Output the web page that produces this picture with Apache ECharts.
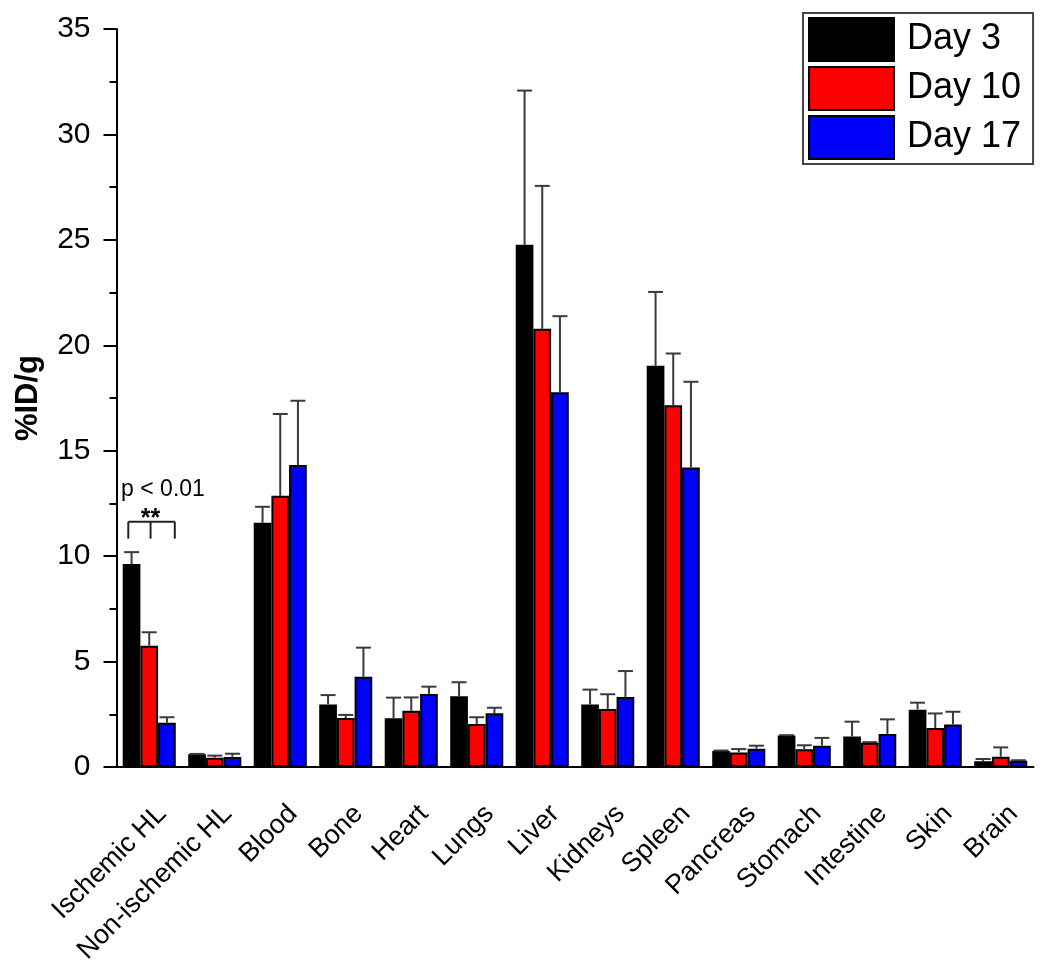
<!DOCTYPE html>
<html>
<head>
<meta charset="utf-8">
<script src="https://cdn.jsdelivr.net/npm/echarts@6/dist/echarts.min.js"></script>
<style>
html,body{margin:0;padding:0;background:#fff;}
#chart{width:1050px;height:967px;}
</style>
</head>
<body>
<div id="chart"></div>
<script>
const categories = ['Ischemic HL','Non-ischemic HL','Blood','Bone','Heart','Lungs','Liver','Kidneys','Spleen','Pancreas','Stomach','Intestine','Skin','Brain'];
const seriesNames = ['Day 3','Day 10','Day 17'];
const day3 = [9.63, 0.60, 11.58, 2.96, 2.31, 3.35, 24.77, 2.96, 19.03, 0.76, 1.49, 1.45, 2.72, 0.27];
const day3Err = [0.56, 0.02, 0.76, 0.45, 0.98, 0.67, 7.31, 0.71, 3.50, 0.02, 0.02, 0.70, 0.33, 0.11];
const day10 = [5.75, 0.44, 12.86, 2.32, 2.67, 2.04, 20.78, 2.75, 17.16, 0.69, 0.84, 1.15, 1.85, 0.49];
const day10Err = [0.64, 0.10, 3.88, 0.15, 0.63, 0.32, 6.78, 0.70, 2.45, 0.16, 0.19, 0.03, 0.69, 0.44];
const day17 = [2.10, 0.48, 14.32, 4.28, 3.46, 2.55, 17.77, 3.32, 14.20, 0.87, 1.01, 1.56, 2.02, 0.30];
const day17Err = [0.26, 0.15, 3.05, 1.38, 0.35, 0.26, 3.61, 1.23, 4.07, 0.14, 0.37, 0.70, 0.60, 0.02];
const yTicks = [0, 5, 10, 15, 20, 25, 30, 35];
const annotationText = ['p < 0.01', '**'];

const colors = ['#000000', '#ff0000', '#0000ff'];
const values = [day3, day10, day17];
const errors = [day3Err, day10Err, day17Err];
const FONT = '"Liberation Sans", Arial, sans-serif';
const GROUP_FRACTION = 0.81;

const chart = echarts.init(document.getElementById('chart'), null, {renderer: 'canvas'});

const barSeries = seriesNames.map((name, k) => ({
  name: name,
  type: 'bar',
  data: values[k],
  barGap: '0%',
  barCategoryGap: '19%',
  itemStyle: {color: colors[k], borderColor: '#000', borderWidth: 2},
  emphasis: {disabled: true},
  z: 2
}));

const errSeries = seriesNames.map((name, k) => ({
  name: name + ' err',
  type: 'custom',
  data: values[k].map((v, i) => [i, v, v + errors[k][i]]),
  encode: {x: 0, y: 2},
  z: 3,
  silent: true,
  renderItem: function (params, api) {
    const i = api.value(0);
    const p = api.coord([i, api.value(1)]);
    const q = api.coord([i, api.value(2)]);
    const band = api.size([1, 0])[0];
    const bw = band * GROUP_FRACTION / 3;
    const x = p[0] + (k - 1) * bw;
    const style = {stroke: '#3a3a3a', lineWidth: 2};
    return {
      type: 'group',
      children: [
        {type: 'line', shape: {x1: x, y1: p[1], x2: x, y2: q[1]}, style: style},
        {type: 'line', shape: {x1: x - 7.5, y1: q[1], x2: x + 7.5, y2: q[1]}, style: style}
      ]
    };
  }
}));

const option = {
  animation: false,
  backgroundColor: '#ffffff',
  textStyle: {fontFamily: FONT},
  grid: {left: 116.5, right: 16.5, top: 29, bottom: 200, containLabel: false, outerBoundsMode: 'none'},
  legend: {
    data: seriesNames,
    orient: 'vertical',
    left: 803,
    top: 13,
    itemWidth: 85,
    itemHeight: 43,
    itemGap: 4,
    padding: [4, 12, 4, 5],
    borderColor: '#444',
    borderWidth: 2,
    icon: 'rect',
    textStyle: {fontSize: 36, color: '#000', fontFamily: FONT, padding: [0, 0, 0, 8]}
  },
  xAxis: {
    type: 'category',
    data: categories,
    axisLine: {lineStyle: {color: '#000', width: 2}},
    axisTick: {alignWithLabel: true, length: 14, lineStyle: {color: '#000', width: 2}},
    axisLabel: {
      rotate: 45,
      fontSize: 27,
      color: '#000',
      fontFamily: FONT,
      margin: 30,
      verticalAlign: 'top',
      lineHeight: 36,
      interval: 0
    }
  },
  yAxis: {
    type: 'value',
    min: 0,
    max: 35,
    interval: 5,
    name: '%ID/g',
    nameLocation: 'middle',
    nameRotate: 90,
    nameGap: 73,
    nameTextStyle: {fontSize: 31, fontWeight: 'bold', color: '#000', fontFamily: FONT},
    axisLine: {show: true, lineStyle: {color: '#000', width: 2}},
    axisTick: {show: true, inside: false, length: 13, lineStyle: {color: '#000', width: 2}},
    minorTick: {show: true, splitNumber: 2, length: 7, lineStyle: {color: '#000', width: 2}},
    splitLine: {show: false},
    axisLabel: {
      fontSize: 30, color: '#000', fontFamily: FONT, margin: 26,
      formatter: v => (yTicks.indexOf(v) >= 0 ? String(v) : '')
    }
  },
  series: barSeries.concat(errSeries)
};

chart.setOption(option);

// significance annotation positioned through the chart's own scales
const toPx = (pt) => chart.convertToPixel({xAxisIndex: 0, yAxisIndex: 0}, pt);
const c = toPx([0, 11.63]);
const cb = toPx([0, 10.83]);
const band = toPx([1, 0])[0] - toPx([0, 0])[0];
const xl = c[0] - band * 0.32, xm = c[0] + band * 0.02, xr = c[0] + band * 0.39;
const lineStyle = {stroke: '#222', lineWidth: 2};
chart.setOption({
  graphic: [
    {type: 'line', shape: {x1: xl, y1: c[1], x2: xr, y2: c[1]}, style: lineStyle, z: 10},
    {type: 'line', shape: {x1: xl, y1: c[1], x2: xl, y2: cb[1]}, style: lineStyle, z: 10},
    {type: 'line', shape: {x1: xm, y1: c[1], x2: xm, y2: cb[1]}, style: lineStyle, z: 10},
    {type: 'line', shape: {x1: xr, y1: c[1], x2: xr, y2: cb[1]}, style: lineStyle, z: 10},
    {type: 'text', x: c[0] + band * 0.21, y: c[1] - 32, style: {text: annotationText[0], font: '23px ' + FONT, fill: '#000', align: 'center', verticalAlign: 'middle'}, z: 10},
    {type: 'text', x: xm, y: c[1] - 3, style: {text: annotationText[1], font: 'bold 25px ' + FONT, fill: '#000', align: 'center', verticalAlign: 'middle'}, z: 10}
  ]
});
</script>
</body>
</html>
